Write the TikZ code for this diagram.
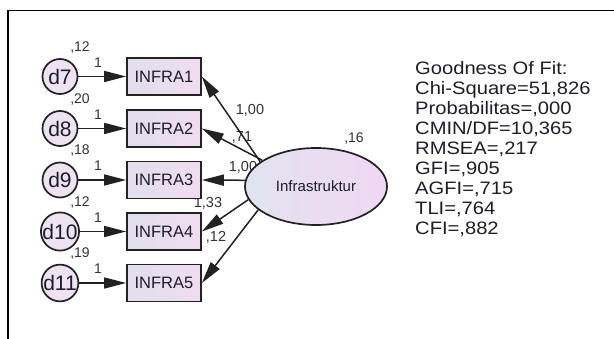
\documentclass[tikz,border=0pt]{standalone}
\usepackage{fontspec}
\setmainfont{Liberation Sans}
\newfontfamily\fitfont{Liberation Sans}[FakeStretch=1.12]
\usetikzlibrary{arrows.meta,shapes.geometric}

\definecolor{edge}{HTML}{222222}
\definecolor{errfill}{HTML}{EDE3F3}
\definecolor{boxl}{HTML}{E2DFEC}
\definecolor{boxr}{HTML}{F0DCF0}
\definecolor{latl}{HTML}{E2E3F0}
\definecolor{latr}{HTML}{F0D8F2}
\definecolor{txt}{HTML}{1E1E2A}
\definecolor{numc}{HTML}{333333}

\begin{document}
\begin{tikzpicture}[x=1pt,y=-1pt,
  err/.style={circle,draw=edge,line width=1.7pt,fill=errfill,minimum size=35pt,
    inner sep=0pt,text=txt,font=\fontsize{21}{21}\selectfont},
  obs/.style={rectangle,draw=edge,line width=1.7pt,left color=boxl,right color=boxr,
    minimum width=74pt,minimum height=37pt,inner sep=0pt,text=txt,
    font=\fontsize{16.5}{16.5}\selectfont},
  lat/.style={ellipse,draw=edge,line width=1.7pt,left color=latl,right color=latr,
    minimum width=142pt,minimum height=77pt,inner sep=0pt,text=txt,
    font=\fontsize{15}{15}\selectfont},
  regpath/.style={draw=edge,line width=1.5pt,-{Triangle[length=22pt,width=11pt]}},
  num/.style={inner sep=0pt,text=numc,font=\fontsize{14}{14}\selectfont},
  load/.style={inner sep=0pt,text=numc,font=\fontsize{14.5}{14.5}\selectfont},
  fit/.style={inner sep=0pt,anchor=base west,text=txt,font=\fitfont\fontsize{18}{20}\selectfont},
]
\useasboundingbox (0,0) rectangle (614,339);
\fill[white] (0,0) rectangle (614,339);

% outer frame
\draw[line width=1.5pt,black] (8,345) -- (8,10.5) -- (620,10.5);

% loading labels (drawn first so the latent ellipse overlaps them)
\node[load] (l1) at (250,110) {1,00};
\node[load] (l2) at (242,137) {,71};
\node[load] (l3) at (243,167) {1,00};
\node[load] (l4) at (208,203) {1,33};
\node[load] (l5) at (216,237) {,12};

% indicators with their error terms
\foreach \i/\k/\y/\ev in {1/7/76.5/{,12}, 2/8/128.5/{,20}, 3/9/180/{,18}, 4/10/231.5/{,12}, 5/11/283/{,19}}{
  \node[err] (d\k) at (60,\y) {d\k};
  \node[obs] (b\i) at (164,\y) {INFRA\i};
  \node[num] (v\k) at (80,\y-29) {\ev};
  \draw[regpath] (d\k) -- (b\i);
  \node[num] (one\k) at (98,\y-14) {1};
}

% latent variable
\node[lat] (lat) at (316,186.5) {Infrastruktur};
\node[num] (vlat) at (354,139) {,16};

\draw[regpath] (lat.156) -- (b1.east);
\draw[regpath] (lat.154) -- (b2.east);
\draw[regpath] (lat.175) -- (b3.east);
\draw[regpath] (lat.191.5) -- (b4.east);
\draw[regpath] (lat.202.5) -- (b5.east);

% fit statistics
\node[fit] (f1) at (415,74.5) {Goodness Of Fit:};
\node[fit] (f2) at (415,94.5) {Chi-Square=51,826};
\node[fit] (f3) at (415,114.5) {Probabilitas=,000};
\node[fit] (f4) at (415,134.5) {CMIN/DF=10,365};
\node[fit] (f5) at (415,154.5) {RMSEA=,217};
\node[fit] (f6) at (415,174.5) {GFI=,905};
\node[fit] (f7) at (415,194.5) {AGFI=,715};
\node[fit] (f8) at (415,214.5) {TLI=,764};
\node[fit] (f9) at (415,234.5) {CFI=,882};
\end{tikzpicture}
\end{document}
